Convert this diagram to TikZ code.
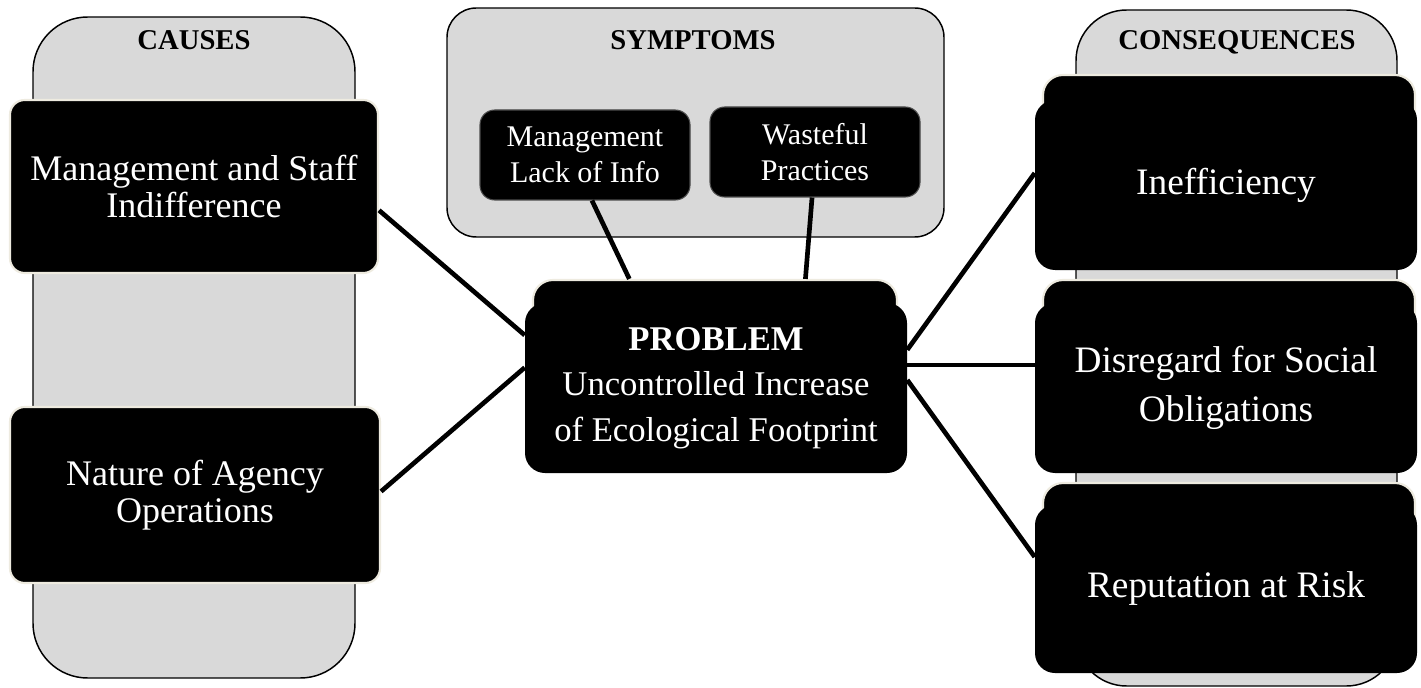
\documentclass[tikz,border=0pt]{standalone}
\usepackage{fontspec}
\setmainfont{Liberation Serif}
\usetikzlibrary{calc}
\definecolor{panelgrey}{RGB}{217,217,217}
\definecolor{cream}{RGB}{238,235,224}
\begin{document}
\begin{tikzpicture}[x=0.75pt,y=-0.75pt,
  panel/.style={fill=panelgrey,draw=black,line width=1.1pt},
  title/.style={font=\fontsize{21.5}{26}\selectfont\bfseries,inner sep=0pt,anchor=base},
  blackbox/.style={fill=black,text=white,align=center,inner sep=0pt},
  causebox/.style={blackbox,draw=cream,line width=1.6pt,rounded corners=11pt,
    font=\fontsize{27}{28}\selectfont},
  symbox/.style={blackbox,draw=black!70,line width=0.8pt,rounded corners=11pt,
    font=\fontsize{22.5}{27}\selectfont},
  ghostbox/.style={fill=black,draw=cream,line width=1.6pt,rounded corners=15pt,inner sep=0pt},
  probbox/.style={blackbox,rounded corners=15pt,font=\fontsize{26}{34}\selectfont},
  consbox/.style={blackbox,rounded corners=15pt,font=\fontsize{28}{37}\selectfont},
  conn/.style={draw=black,line width=3.5pt}]
\useasboundingbox (0,0) rectangle (1421,688);

% panels
\draw[panel,rounded corners=41pt] (33,17) rectangle (355,678);
\draw[panel,rounded corners=22pt] (447,8) rectangle (944,237);
\draw[panel,rounded corners=38pt] (1076,10) rectangle (1397,686);

\node[title] (tcauses) at (194,50) {CAUSES};
\node[title] (tsym) at (693,50) {SYMPTOMS};
\node[title] (tcons) at (1237,50) {CONSEQUENCES};

% causes
\node[causebox,minimum width=276pt,minimum height=129.75pt] (c1) at (194,186.5)
  {Management and Staff\\Indifference};
\node[causebox,minimum width=277.5pt,minimum height=132pt] (c2) at (195,495)
  {Nature of Agency\\Operations};

% symptoms
\node[symbox,minimum width=157.5pt,minimum height=67.5pt] (sA) at (585,155)
  {Management\\Lack of Info};
\node[symbox,minimum width=157.5pt,minimum height=67.5pt] (sB) at (815,152)
  {Wasteful\\Practices};

% problem
\node[ghostbox,minimum width=273pt,minimum height=127.5pt] (probback) at (715,365) {};
\node[probbox,minimum width=286.5pt,minimum height=127.5pt] (prob) at (716,388)
  {\textbf{PROBLEM}\\Uncontrolled Increase\\of Ecological Footprint};

% consequences
\node[ghostbox,minimum width=279pt,minimum height=127.5pt] (g1) at (1229,160) {};
\node[consbox,minimum width=286.5pt,minimum height=127.5pt] (k1) at (1226,185) {Inefficiency};
\node[ghostbox,minimum width=279pt,minimum height=127.5pt] (g2) at (1229,365) {};
\node[consbox,minimum width=286.5pt,minimum height=127.5pt] (k2) at (1226,388)
  {Disregard for Social\\Obligations};
\node[ghostbox,minimum width=279pt,minimum height=126pt] (g3) at (1229,567) {};
\node[consbox,minimum width=286.5pt,minimum height=126pt] (k3) at (1226,589) {Reputation at Risk};

% connectors
\draw[conn] ($(c1.north east)!0.636!(c1.south east)$) -- ($(prob.north west)!0.19!(prob.south west)$);
\draw[conn] ($(c2.north east)!0.48!(c2.south east)$) -- ($(prob.north west)!0.38!(prob.south west)$);
\draw[conn] ($(sA.south west)!0.533!(sA.south east)$) -- ($(probback.north west)!0.266!(probback.north east)$);
\draw[conn] ($(sB.south west)!0.486!(sB.south east)$) -- ($(probback.north west)!0.747!(probback.north east)$);
\draw[conn] ($(prob.north east)!0.276!(prob.south east)$) -- ($(k1.north west)!0.43!(k1.south west)$);
\draw[conn] ($(prob.north east)!0.365!(prob.south east)$) -- ($(k2.north west)!0.365!(k2.south west)$);
\draw[conn] ($(prob.north east)!0.453!(prob.south east)$) -- ($(k3.north west)!0.31!(k3.south west)$);
\end{tikzpicture}
\end{document}
